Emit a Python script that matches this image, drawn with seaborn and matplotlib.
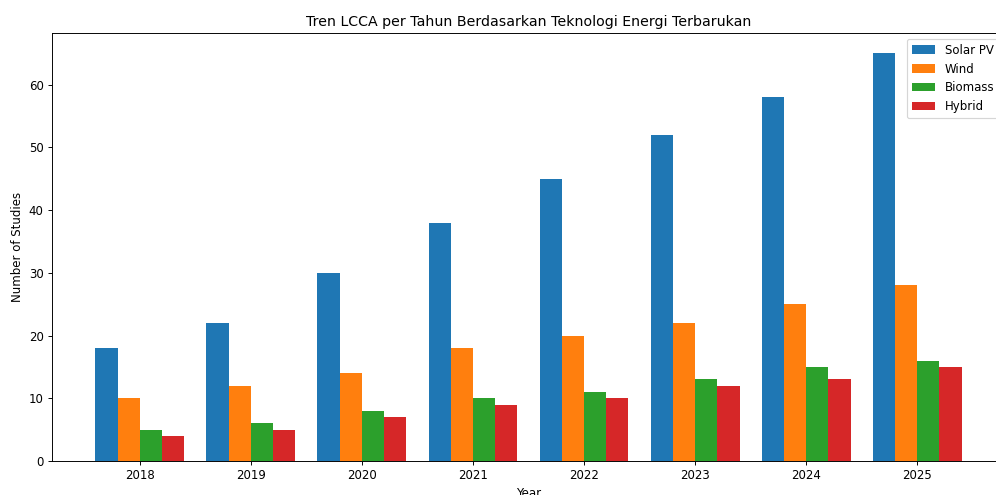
import matplotlib
matplotlib.use("Agg")
import matplotlib.pyplot as plt
import seaborn as sns
import pandas as pd

years = ["2018", "2019", "2020", "2021", "2022", "2023", "2024", "2025"]
technologies = ["Solar PV", "Wind", "Biomass", "Hybrid"]
solar_pv = [18, 22, 30, 38, 45, 52, 58, 65]
wind = [10, 12, 14, 18, 20, 22, 25, 28]
biomass = [5, 6, 8, 10, 11, 13, 15, 16]
hybrid = [4, 5, 7, 9, 10, 12, 13, 15]
colors = ["#1f77b4", "#ff7f0e", "#2ca02c", "#d62728"]

series = {"Solar PV": solar_pv, "Wind": wind, "Biomass": biomass, "Hybrid": hybrid}
rows = []
for tech in technologies:
    for y, v in zip(years, series[tech]):
        rows.append({"Year": y, "Technology": tech, "Studies": v})
df = pd.DataFrame(rows)

DPI = 85
W, H = 997, 495
fig = plt.figure(figsize=(W / DPI, H / DPI), dpi=DPI)
left, right, top, bottom = 52, 1005, 33, 461
ax = fig.add_axes([left / W, 1 - bottom / H, (right - left) / W, (bottom - top) / H])

sns.barplot(data=df, x="Year", y="Studies", hue="Technology", order=years,
            hue_order=technologies, palette=colors, saturation=1, width=0.8,
            errorbar=None, ax=ax)
ax.set_xlim(-0.79, 7.79)
ax.set_title("Tren LCCA per Tahun Berdasarkan Teknologi Energi Terbarukan")
ax.set_xlabel("Year")
ax.set_ylabel("Number of Studies")
ax.legend(loc="upper right", title=None)

fig.savefig("out.png", dpi=DPI)
